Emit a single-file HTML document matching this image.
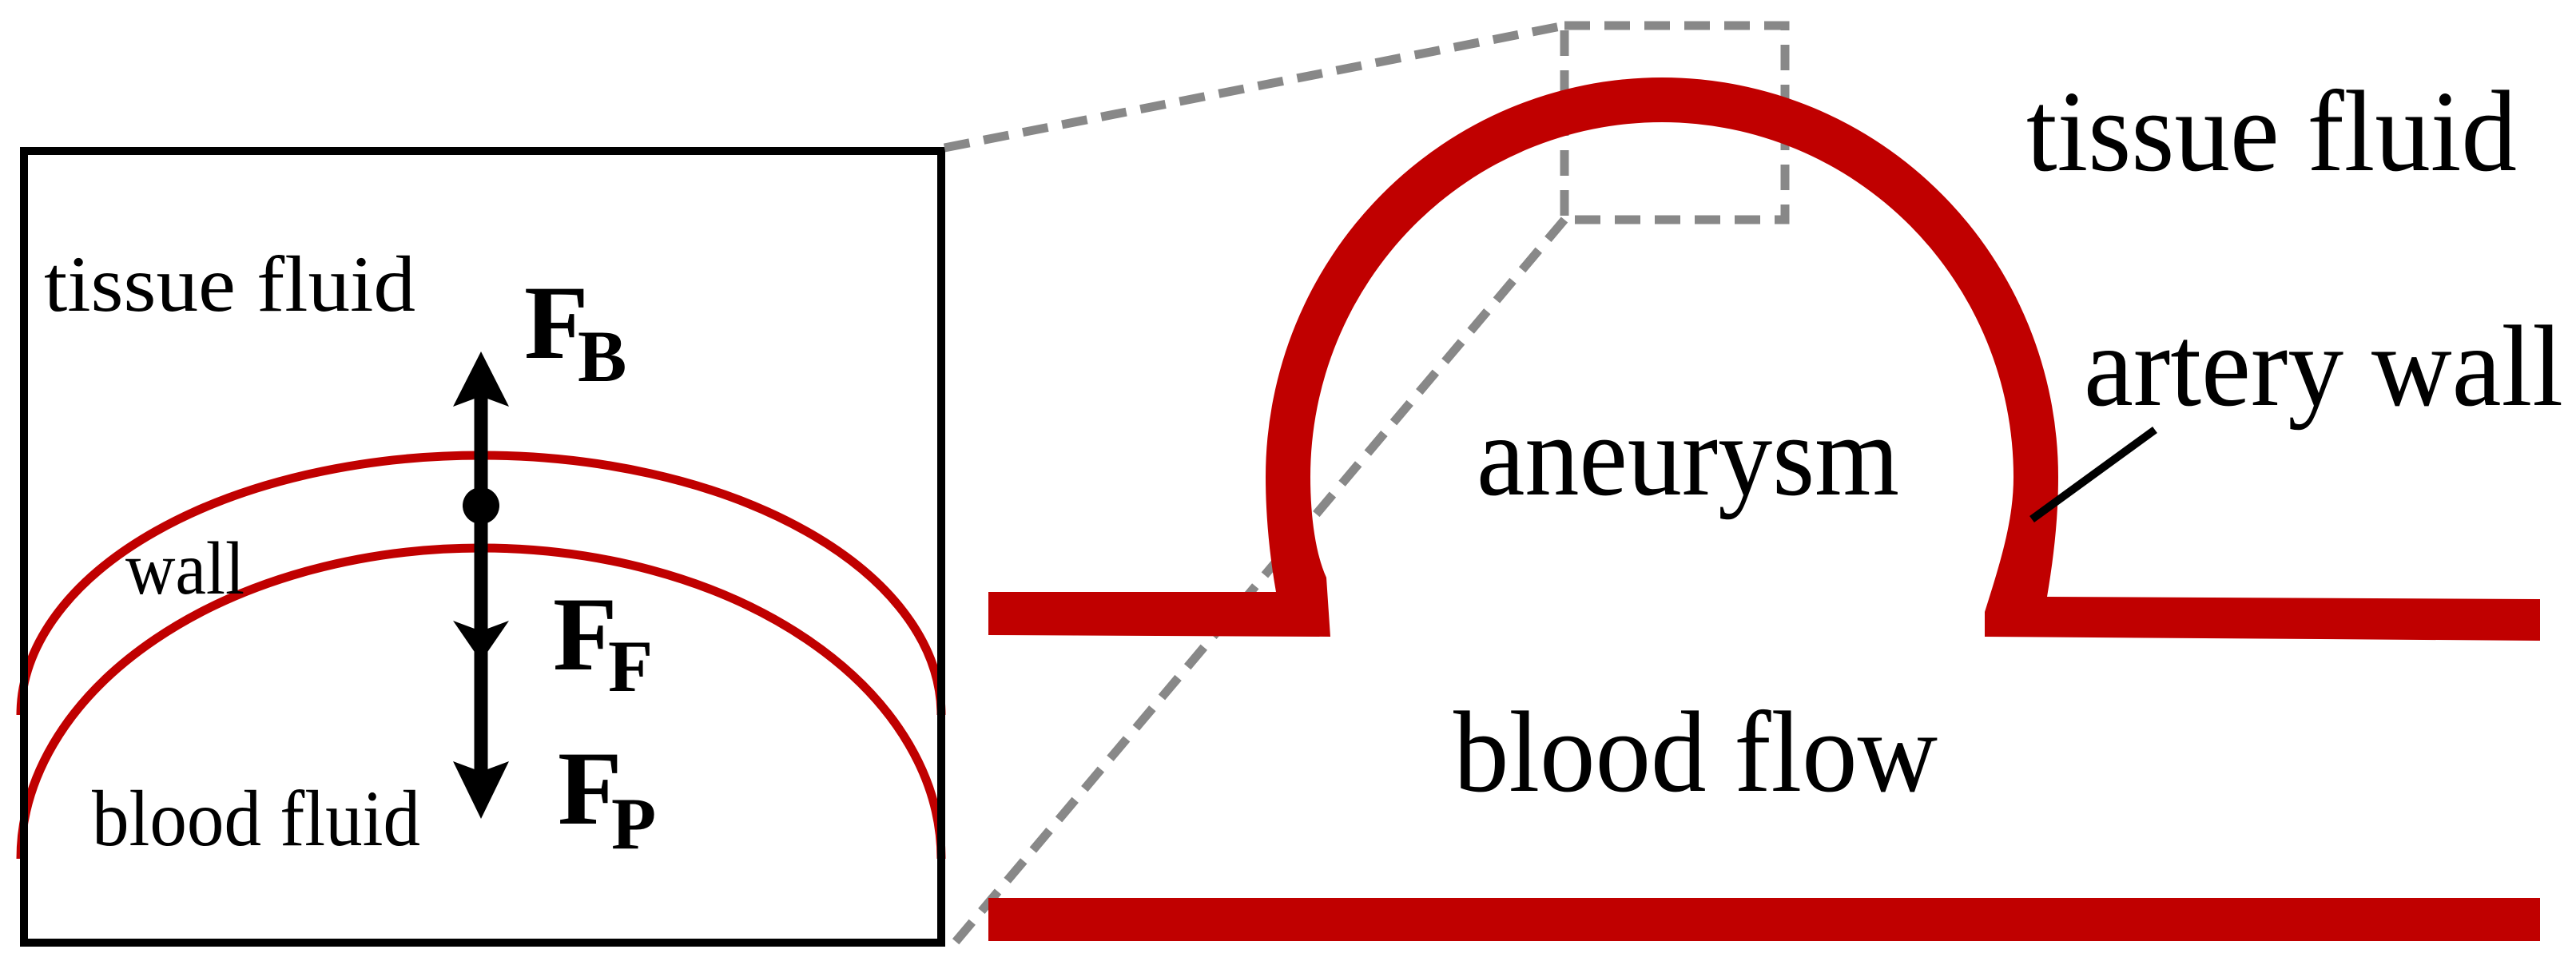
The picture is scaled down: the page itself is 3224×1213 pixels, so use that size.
<!DOCTYPE html>
<html><head><meta charset="utf-8"><style>html,body{margin:0;padding:0;background:#fff}svg{display:block}</style></head>
<body>
<svg width="3224" height="1213" viewBox="0 0 3224 1213" xmlns="http://www.w3.org/2000/svg" font-family="Liberation Serif, serif">
<rect width="3224" height="1213" fill="#fff"/>
<path d="M26,895 A576,325 0 0 1 1178,895" fill="none" stroke="#c00000" stroke-width="11"/>
<path d="M26,1075 A576,389 0 0 1 1178,1075" fill="none" stroke="#c00000" stroke-width="11"/>
<rect x="30" y="189" width="1148" height="991" fill="none" stroke="#000" stroke-width="10"/>
<line x1="602" y1="495" x2="602" y2="990" stroke="#000" stroke-width="17"/>
<polygon points="602,440 567,509 602,496 637,509" fill="#000"/>
<polygon points="602,828 567,777 602,790 637,777" fill="#000"/>
<polygon points="602,1025 567,953 602,966 637,953" fill="#000"/>
<circle cx="602" cy="633" r="23" fill="#000"/>
<g font-size="100">
<text x="55" y="389" textLength="465" lengthAdjust="spacingAndGlyphs">tissue fluid</text>
<text x="157" y="743" font-size="94" textLength="149" lengthAdjust="spacingAndGlyphs">wall</text>
<text x="115" y="1058" textLength="411" lengthAdjust="spacingAndGlyphs">blood fluid</text>
</g>
<g font-weight="bold">
<text x="656" y="448" font-size="132">F</text><text x="723" y="477" font-size="92">B</text>
<text x="692" y="838" font-size="132">F</text><text x="761" y="865" font-size="92">F</text>
<text x="698" y="1031" font-size="132">F</text><text x="765" y="1062" font-size="92">P</text>
</g>
<g fill="none" stroke="#888" stroke-width="11" stroke-dasharray="32,18">
<line x1="1182" y1="185" x2="1958" y2="32"/>
<rect x="1958" y="32" width="276" height="243"/>
<line x1="1958" y1="275" x2="1190" y2="1186"/>
</g>
<path d="M1237,741 L1597,741 C1588,690 1584,640 1584,597 A496,500 0 0 1 2576,597 C2576,650 2570,700 2562,747 L3179,750 L3179,802 L2484,797 L2484,766 C2505,700 2520,650 2520,597 A440,444 0 0 0 1640,597 C1640,640 1645,690 1660,723 L1665,797 L1237,795 Z" fill="#c00000"/>
<rect x="1237" y="1124" width="1942" height="54" fill="#c00000"/>
<line x1="2543" y1="650" x2="2697" y2="538" stroke="#000" stroke-width="10"/>
<g font-size="145">
<text x="2536" y="213" textLength="614" lengthAdjust="spacingAndGlyphs">tissue fluid</text>
<text x="2608" y="507" textLength="600" lengthAdjust="spacingAndGlyphs">artery wall</text>
<text x="1848" y="619" textLength="529" lengthAdjust="spacingAndGlyphs">aneurysm</text>
<text x="1819" y="990" textLength="606" lengthAdjust="spacingAndGlyphs">blood flow</text>
</g>
</svg>
</body></html>
